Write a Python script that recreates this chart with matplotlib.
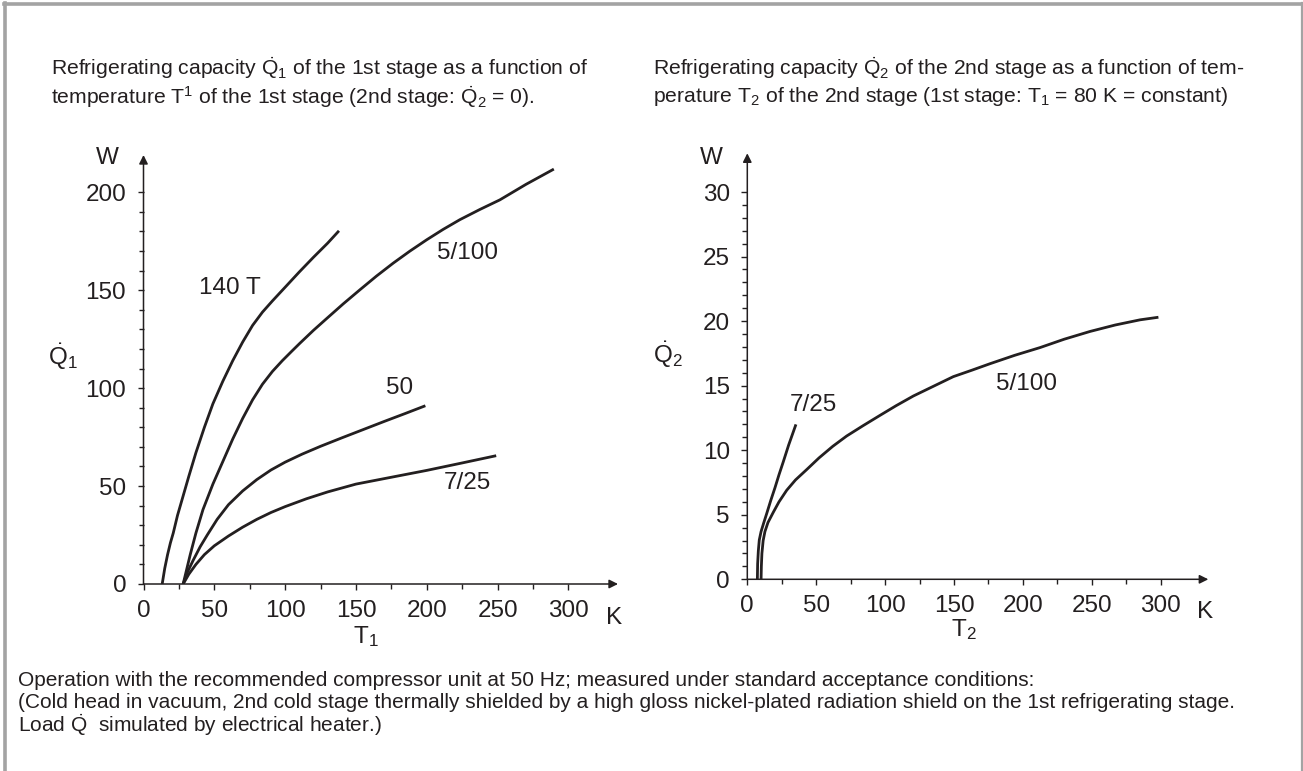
import matplotlib
matplotlib.use('Agg')
import matplotlib.pyplot as plt
from matplotlib.ticker import FixedLocator
from matplotlib.lines import Line2D

plt.rcParams['font.family'] = ['Liberation Sans', 'DejaVu Sans']
plt.rcParams['mathtext.fontset'] = 'custom'
plt.rcParams['mathtext.rm'] = 'Liberation Sans'
plt.rcParams['mathtext.it'] = 'Liberation Sans:italic'
plt.rcParams['mathtext.bf'] = 'Liberation Sans:bold'

# ---------------- data: stage 1 (T1 in K, Q1 in W) ----------------
t1_140T = [13.2, 15, 17, 19, 21, 24, 28, 32, 37, 43, 49, 56, 63, 70, 77, 84, 91, 100, 110, 120, 130, 138]
q1_140T = [0, 8, 15, 21, 26, 35, 45, 55, 67, 80, 92, 103.5, 114, 123.5, 132, 138.8, 144.5, 151.5, 159.3, 166.8, 174, 180.3]

t1_5_100 = [28, 30, 33, 37, 42, 49, 56, 63, 70, 77, 84, 91, 98, 104.5, 110.4, 120, 129.3, 141,
            152.8, 164.5, 176.3, 188, 199.9, 211.5, 223.4, 237.5, 251.6, 270, 289.7]
q1_5_100 = [0, 6, 15, 26, 38, 51, 62.5, 74, 84.5, 94, 102, 108.5, 114, 118.7, 122.9, 129.5, 135.5, 143,
            150.2, 157.2, 163.8, 169.9, 175.7, 181, 186, 191.2, 196.1, 204, 211.8]

t1_50 = [28, 31, 35, 40, 45, 52, 60, 70, 80, 90, 100, 112, 125, 140, 155, 170, 185, 199]
q1_50 = [0, 6, 12, 19, 25, 33, 40.5, 47.5, 53.3, 58.2, 62.2, 66.3, 70.3, 74.6, 78.8, 83, 87.1, 91]

t1_7_25 = [28, 32, 37, 43, 50, 60, 70, 80, 90, 100, 115, 130, 150, 175, 200, 225, 249]
q1_7_25 = [0, 5, 10, 15, 19.5, 24.5, 29, 33, 36.5, 39.5, 43.5, 47, 51, 54.5, 58, 61.8, 65.5]

# ---------------- data: stage 2 (T2 in K, Q2 in W) ----------------
t2_5_100 = [10, 10.2, 10.6, 11.5, 12.8, 15, 18.9, 23, 28.6, 35, 43.1, 52, 62, 72.1, 84, 96.3, 108, 120.5,
            135, 149.5, 163, 176.1, 194, 212.4, 230, 248.7, 267, 285, 298.3]
q2_5_100 = [0, 1, 2, 3, 3.7, 4.4, 5.2, 6.0, 6.9, 7.7, 8.5, 9.4, 10.3, 11.1, 11.9, 12.7, 13.45, 14.2,
            14.95, 15.7, 16.2, 16.7, 17.35, 17.95, 18.6, 19.2, 19.7, 20.1, 20.3]

t2_7_25 = [7.3, 7.5, 8.0, 8.7, 10, 12, 14.1, 17, 20.1, 23, 26.1, 30, 35.3]
q2_7_25 = [0, 1.2, 2.2, 3.05, 3.7, 4.4, 5.1, 6.1, 7.1, 8.1, 9.1, 10.4, 12.0]

x_ticks = [0, 50, 100, 150, 200, 250, 300]
y1_ticks = [0, 50, 100, 150, 200]
y2_ticks = [0, 5, 10, 15, 20, 25, 30]

INK = '#231f20'
FS = 17.5
TFS = 15.2
CFS = 15.0

fig = plt.figure(figsize=(13.03, 7.71), dpi=100)
W_PX, H_PX = 1303.0, 771.0


def fx(px):
    return px / W_PX


def fy(py):
    return 1 - py / H_PX


ax1 = fig.add_axes([fx(143.5), fy(584), (618 - 143.5) / W_PX, (584 - 155) / H_PX])
ax2 = fig.add_axes([fx(747.3), fy(579.3), (1208.3 - 747.3) / W_PX, (579.3 - 153.3) / H_PX])


def style(ax, xmax, ymax, yt, ymin_step):
    ax.set_xlim(0, xmax)
    ax.set_ylim(0, ymax)
    for s in ax.spines.values():
        s.set_visible(False)
    ax.xaxis.set_major_locator(FixedLocator(x_ticks))
    ax.xaxis.set_minor_locator(FixedLocator([25 + 50 * i for i in range(6)]))
    ax.yaxis.set_major_locator(FixedLocator(yt))
    mins = []
    v = ymin_step
    while v < yt[-1]:
        if all(abs(v - t) > 1e-6 for t in yt):
            mins.append(v)
        v += ymin_step
    ax.yaxis.set_minor_locator(FixedLocator(mins))
    ax.tick_params(which='both', direction='out', color=INK, width=1.0,
                   labelsize=FS, labelcolor=INK)
    ax.tick_params(which='major', length=4.5)
    ax.tick_params(which='minor', length=3.6)
    ax.tick_params(axis='x', which='major', pad=7)
    ax.tick_params(axis='y', which='major', pad=8)
    ax.patch.set_alpha(0)
    arr = dict(arrowstyle='-|>', lw=1.1, color=INK, mutation_scale=13,
               shrinkA=0, shrinkB=0)
    ax.annotate('', xy=(xmax, 0), xytext=(0, 0), arrowprops=arr, annotation_clip=False)
    ax.annotate('', xy=(0, ymax), xytext=(0, 0), arrowprops=arr, annotation_clip=False)


style(ax1, 335, 219, y1_ticks, 10)
style(ax2, 334.5, 33.0, y2_ticks, 1)

lw = 2.0
for t, q in [(t1_140T, q1_140T), (t1_5_100, q1_5_100), (t1_50, q1_50), (t1_7_25, q1_7_25)]:
    ax1.plot(t, q, color=INK, lw=lw, solid_joinstyle='round', solid_capstyle='butt')
for t, q in [(t2_5_100, q2_5_100), (t2_7_25, q2_7_25)]:
    ax2.plot(t, q, color=INK, lw=lw, solid_joinstyle='round', solid_capstyle='butt')

kw = dict(fontsize=FS, color=INK, ha='center', va='center', clip_on=False)
ax1.text(61, 151, '140 T', **kw)
ax1.text(229, 169, '5/100', **kw)
ax1.text(181, 100, '50', **kw)
ax1.text(229, 51.4, '7/25', **kw)
ax2.text(47.9, 13.5, '7/25', **kw)
ax2.text(202.7, 15.1, '5/100', **kw)

# axis labels / units
ax1.text(-25.8, 217.6, 'W', **kw)
ax1.text(-56.8, 116, r'$\dot{\mathrm{Q}}_1$', **kw)
ax1.text(332, -17.4, 'K', **kw)
ax1.text(157, -27, r'T$_1$', **kw)
ax2.text(-25.8, 32.6, 'W', **kw)
ax2.text(-57.5, 17.4, r'$\dot{\mathrm{Q}}_2$', **kw)
ax2.text(332, -2.53, 'K', **kw)
ax2.text(157, -3.93, r'T$_2$', **kw)

# titles
tk = dict(fontsize=TFS, color=INK, ha='left', va='center')
fig.text(fx(51), fy(68), r'Refrigerating capacity $\dot{\mathrm{Q}}$$_1$ of the 1st stage as a function of', **tk)
fig.text(fx(51), fy(97), r'temperature T$^1$ of the 1st stage (2nd stage: $\dot{\mathrm{Q}}$$_2$ = 0).', **tk)
fig.text(fx(653), fy(68), r'Refrigerating capacity $\dot{\mathrm{Q}}$$_2$ of the 2nd stage as a function of tem-', **tk)
fig.text(fx(653), fy(97), r'perature T$_2$ of the 2nd stage (1st stage: T$_1$ = 80 K = constant)', **tk)

ck = dict(fontsize=CFS, color=INK, ha='left', va='center')
fig.text(fx(18), fy(681), 'Operation with the recommended compressor unit at 50 Hz; measured under standard acceptance conditions:', **ck)
fig.text(fx(18), fy(703), '(Cold head in vacuum, 2nd cold stage thermally shielded by a high gloss nickel-plated radiation shield on the 1st refrigerating stage.', **ck)
fig.text(fx(18), fy(725), r'Load $\dot{\mathrm{Q}}$  simulated by electrical heater.)', **ck)

# frame
fc = '#a3a3a3'
fig.add_artist(Line2D([fx(5), fx(5)], [0, fy(3)], color=fc, lw=2.6, transform=fig.transFigure))
fig.add_artist(Line2D([fx(3.7), fx(1301.5)], [fy(4), fy(4)], color=fc, lw=2.6, transform=fig.transFigure))
fig.add_artist(Line2D([fx(1301.5), fx(1301.5)], [0, fy(3)], color=fc, lw=1.6, transform=fig.transFigure))

fig.savefig('out.png', dpi=100)
